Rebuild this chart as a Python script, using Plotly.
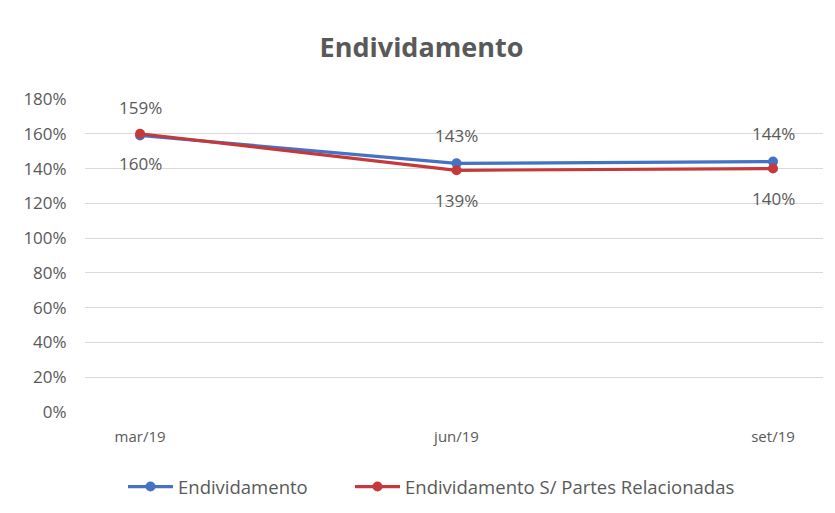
import plotly.graph_objects as go

categories = ["mar/19", "jun/19", "set/19"]
endividamento = [1.59, 1.43, 1.44]
endividamento_spr = [1.60, 1.39, 1.40]
series_names = ["Endividamento", "Endividamento S/ Partes Relacionadas"]
y_ticks = [0, 0.2, 0.4, 0.6, 0.8, 1.0, 1.2, 1.4, 1.6, 1.8]

BLUE = "#4472C4"
RED = "#C6393A"
GRAY = "#595959"
FONT = "Open Sans"

W, H = 827, 505

xi = list(range(len(categories)))

fig = go.Figure()
fig.add_trace(go.Scatter(
    x=xi, y=endividamento, mode="lines+markers", name=series_names[0],
    line=dict(color=BLUE, width=3.2), marker=dict(color=BLUE, size=10),
    legend="legend",
))
fig.add_trace(go.Scatter(
    x=xi, y=endividamento_spr, mode="lines+markers", name=series_names[1],
    line=dict(color=RED, width=3.2), marker=dict(color=RED, size=10),
    legend="legend2",
))

for x, v in zip(xi, endividamento):
    fig.add_annotation(x=x, y=v, text=f"{round(v*100)}%", showarrow=False,
                       yshift=28, font=dict(family=FONT, size=17, color=GRAY))
for x, v in zip(xi, endividamento_spr):
    fig.add_annotation(x=x, y=v, text=f"{round(v*100)}%", showarrow=False,
                       yshift=-30, font=dict(family=FONT, size=17, color=GRAY))

legend_common = dict(orientation="h", xanchor="left", xref="container",
                     y=1 - 479 / H, yanchor="middle", yref="container",
                     bgcolor="rgba(0,0,0,0)", itemwidth=45,
                     font=dict(family=FONT, size=18.5, color=GRAY))

fig.update_layout(
    width=W, height=H,
    margin=dict(l=77, r=12, t=91, b=101, autoexpand=False),
    paper_bgcolor="white", plot_bgcolor="white",
    font=dict(family=FONT, size=15, color=GRAY),
    title=dict(text="<b>Endividamento</b>", x=0.5, xanchor="center",
               y=1 - 40 / H, yanchor="middle", yref="container",
               font=dict(family=FONT, size=27, color=GRAY)),
    xaxis=dict(tickmode="array", tickvals=xi, ticktext=categories, range=[-0.174, 2.158],
               showgrid=False, zeroline=False, showline=False, automargin=False,
               ticks="outside", ticklen=11, tickcolor="rgba(0,0,0,0)",
               tickfont=dict(family=FONT, size=15, color=GRAY)),
    yaxis=dict(range=[0, 1.8], tickvals=y_ticks, tickformat=".0%", showgrid=True,
               gridcolor="#D9D9D9", gridwidth=1, zeroline=False, showline=False,
               automargin=False, ticks="outside", ticklen=14, tickcolor="rgba(0,0,0,0)",
               tickfont=dict(family=FONT, size=17, color=GRAY)),
    legend=dict(x=115 / W, **legend_common),
    legend2=dict(x=342 / W, **legend_common),
    showlegend=True,
)

fig.write_html("out.html")
